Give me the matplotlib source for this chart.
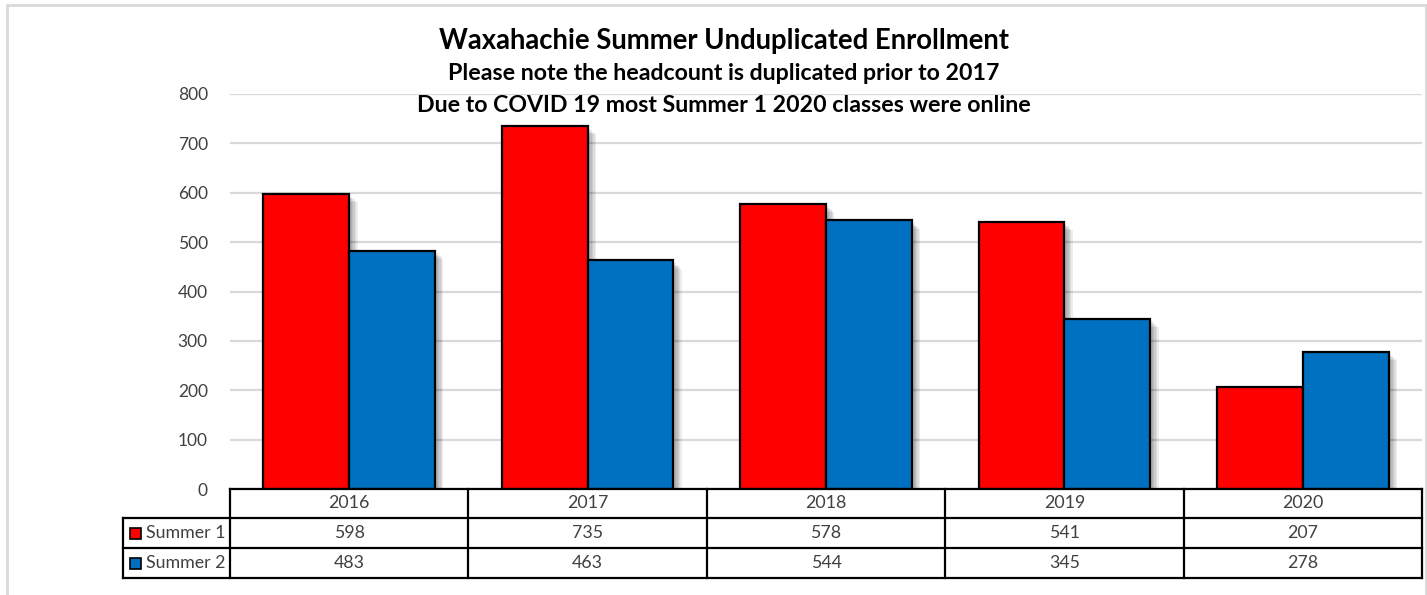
import numpy as np
import matplotlib.pyplot as plt
import matplotlib.patheffects as pe
from matplotlib.patches import Rectangle

plt.rcParams['font.family'] = ['Lato', 'DejaVu Sans']

years = ['2016', '2017', '2018', '2019', '2020']
summer1 = [598, 735, 578, 541, 207]
summer2 = [483, 463, 544, 345, 278]
series_names = ['Summer 1', 'Summer 2']
series_colors = ['#ff0000', '#0070c0']
yticks = [0, 100, 200, 300, 400, 500, 600, 700, 800]

W, H = 1427, 595
fig = plt.figure(figsize=(W / 100, H / 100), dpi=100)

# outer chart border
fig.patches.append(Rectangle((7 / W, -0.05), (1426 - 7) / W, (H - 5) / H + 0.05,
                             transform=fig.transFigure, fill=False,
                             edgecolor='#d9d9d9', linewidth=2))

x0, x1, y0, y1 = 230, 1422, 489, 94
ax = fig.add_axes([x0 / W, 1 - y0 / H, (x1 - x0) / W, (y0 - y1) / H])

x = np.arange(len(years))
bw = 0.36
# soft shadow: a few stacked offsets with low alpha
shadow = [pe.SimplePatchShadow(offset=(d, -d), shadow_rgbFace='#000000', alpha=0.07)
          for d in (6, 5, 4, 3, 2)] + [pe.Normal()]
for k, vals in enumerate([summer1, summer2]):
    ax.bar(x + (k - 0.5) * bw, vals, width=bw, color=series_colors[k],
           edgecolor='black', linewidth=1.6, zorder=3, path_effects=shadow)

ax.set_xlim(-0.5, len(years) - 0.5)
ax.set_ylim(0, 800)
ax.set_yticks(yticks)
ax.set_yticklabels([str(v) for v in yticks], fontsize=12.5, color='#404040')
ax.tick_params(axis='y', length=0, pad=16)
ax.set_xticks([])
ax.grid(axis='y', color='#d9d9d9', linewidth=1.6, zorder=0)
for s in ax.spines.values():
    s.set_visible(False)

# data table below the axis
ph = y0 - y1
def fy(py):
    return (y0 - py) / ph

rows = [489, 518, 548, 578]
lx = (123 - x0) / (x1 - x0)
lw = 1.6
kw = dict(transform=ax.transAxes, clip_on=False, color='black', linewidth=lw, zorder=5)
ax.plot([0, 1], [fy(rows[0])] * 2, **kw)
for r in rows[1:]:
    ax.plot([lx, 1], [fy(r)] * 2, **kw)
ax.plot([lx, lx], [fy(rows[1]), fy(rows[3])], **kw)
for i in range(len(years) + 1):
    ax.plot([i / len(years)] * 2, [fy(rows[0]), fy(rows[3])], **kw)

tk = dict(transform=ax.transAxes, ha='center', va='center', fontsize=12.8, color='#404040')
for i, yr in enumerate(years):
    cx = (i + 0.5) / len(years)
    ax.text(cx, fy((rows[0] + rows[1]) / 2), yr, **tk)
    ax.text(cx, fy((rows[1] + rows[2]) / 2), str(summer1[i]), **tk)
    ax.text(cx, fy((rows[2] + rows[3]) / 2), str(summer2[i]), **tk)

for k, name in enumerate(series_names):
    cy = fy((rows[k + 1] + rows[k + 2]) / 2)
    sq = 11
    ax.add_patch(Rectangle(((130 - x0) / (x1 - x0), cy - sq / 2 / ph), sq / (x1 - x0), sq / ph,
                           transform=ax.transAxes, clip_on=False, facecolor=series_colors[k],
                           edgecolor='black', linewidth=1.2, zorder=5))
    ax.text((146 - x0) / (x1 - x0), cy, name, transform=ax.transAxes, ha='left',
            va='center', fontsize=12.8, color='#404040')

fig.text(724 / W, 1 - 41 / H, 'Waxahachie Summer Unduplicated Enrollment',
         ha='center', va='center', fontsize=19.8, fontweight='bold', color='black')
fig.text(724 / W, 1 - 73 / H, 'Please note the headcount is duplicated prior to 2017',
         ha='center', va='center', fontsize=16.7, fontweight='bold', color='black')
fig.text(724 / W, 1 - 105 / H, 'Due to COVID 19 most Summer 1 2020 classes were online',
         ha='center', va='center', fontsize=16.7, fontweight='bold', color='black')

fig.savefig('out.png', dpi=100)
